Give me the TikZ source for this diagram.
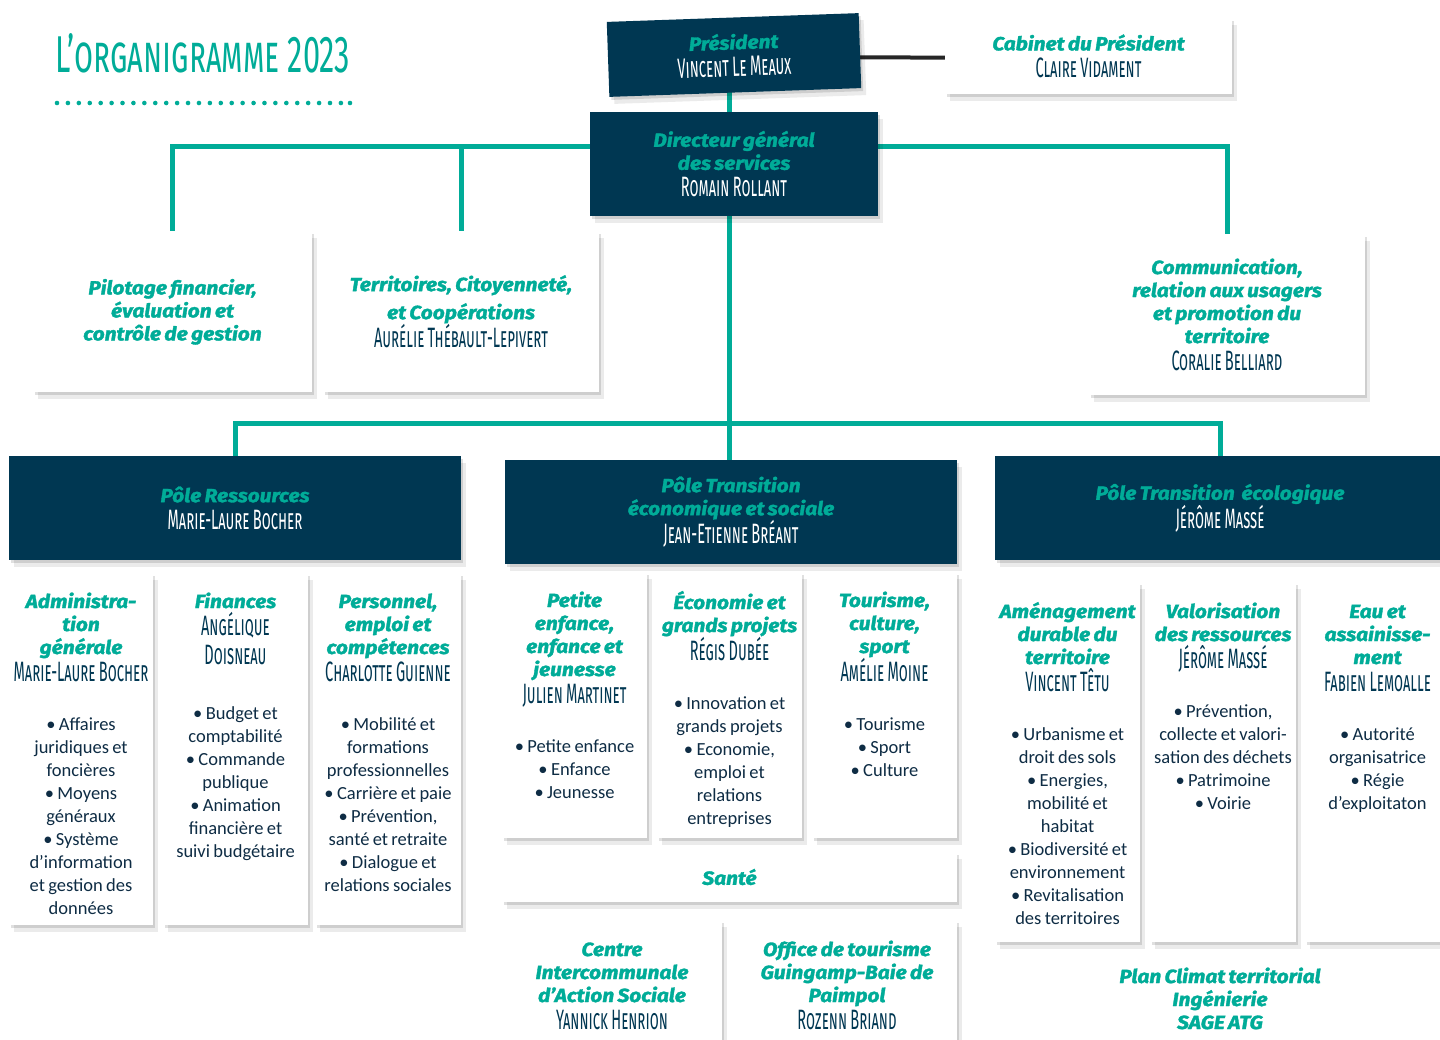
\documentclass[tikz,border=0pt]{standalone}
\usepackage{fontspec}
\usepackage{graphicx}
\setmainfont{Carlito}
\newfontfamily\headfont{Fira Sans}[FakeStretch=1.1, BoldItalicFeatures={FakeBold=1.8}]
\newfontfamily\namefont{Fira Sans}[Letters=SmallCaps, FakeStretch=0.52]
\usetikzlibrary{positioning, shadows, backgrounds}
\definecolor{orgteal}{RGB}{0,172,152}
\definecolor{orgnavy}{RGB}{0,55,82}
\definecolor{orgtext}{RGB}{14,44,68}
\newcommand\hd{\headfont\bfseries\itshape\fontsize{19}{23}\selectfont\color{orgteal}}
\newcommand\nm{\namefont\fontsize{28}{27}\selectfont\color{orgnavy}}
\newcommand\nmw{\namefont\fontsize{28}{27}\selectfont\color{white}}
\newcommand\bd{\fontsize{18.5}{23}\selectfont\color{orgtext}}
\newcommand\topgap{\rule{0pt}{16pt}}

\begin{document}
\begin{tikzpicture}[x=1pt, y=-1pt,
    softshadow/.style={drop shadow={shadow xshift=2pt, shadow yshift=-3pt, opacity=0.12, fill=black},
        drop shadow={shadow xshift=5pt, shadow yshift=-7pt, opacity=0.08, fill=black}},
    darkbox/.style={fill=orgnavy, inner sep=0pt, align=center, softshadow},
    lightbox/.style={fill=white, inner sep=0pt, align=center, softshadow},
    coltext/.style={text width=200pt, align=center, inner sep=0pt},
    link/.style={draw=orgteal, line width=5pt},
    cablink/.style={draw=black!85, line width=4pt}]
        \useasboundingbox (0,0) rectangle (1440,1039);

        % titre
        \node[anchor=base west, inner sep=0pt] (title) at (55,72) {\color{orgteal}\resizebox{295pt}{39pt}{\namefont L’organigramme 2023}};
        \draw[orgteal, line width=4.6pt, line cap=round, dash pattern=on 0pt off 10.92pt] (57,103) -- (341.5,103);
        \fill[orgteal] (350,103) circle (2.3);

        % direction
        \node[darkbox, rotate=2, minimum width=252pt, minimum height=75pt, text width=240pt] (pres) at (734,55) {{\hd\topgap Président\par}{\nmw Vincent Le Meaux\par}};
        \node[lightbox, minimum width=287pt, minimum height=76pt, text width=277pt] (cab) at (1088.5,56) {{\hd\topgap Cabinet du Président\par}{\nm Claire Vidament\par}};
        \node[darkbox, minimum width=288pt, minimum height=104pt, text width=278pt] (dg) at (734,164) {{\hd Directeur général\\des services\par}{\nmw Romain Rollant\par}};

        \node[lightbox, minimum width=279pt, minimum height=161pt, text width=269pt] (pil) at (172.5,311.5) {{\hd\topgap Pilotage financier,\\évaluation et\\contrôle de gestion\par}};
        \node[lightbox, minimum width=276pt, minimum height=161pt, text width=266pt] (ter) at (461,311.5) {{\hd\topgap Territoires, Citoyenneté,\\[5pt]et Coopérations\par}{\nm Aurélie Thébault-Lepivert\par}};
        \node[lightbox, minimum width=276pt, minimum height=161pt, text width=266pt] (com) at (1227,314.5) {{\hd Communication,\\relation aux usagers\\et promotion du\\territoire\par}{\nm Coralie Belliard\par}};

        % poles
        \node[darkbox, minimum width=452pt, minimum height=104pt, text width=440pt] (pt1) at (235,508) {{\hd Pôle Ressources\par}{\nmw Marie-Laure Bocher\par}};
        \node[darkbox, minimum width=452pt, minimum height=104pt, text width=440pt] (pt2) at (731,512) {{\hd Pôle Transition\\économique et sociale\par}{\nmw Jean-Etienne Bréant\par}};
        \node[darkbox, minimum width=450pt, minimum height=104pt, text width=440pt] (pt3) at (1220,508) {{\hd Pôle Transition~ écologique\par}{\nmw Jérôme Massé\par}};

        % pole ressources
        \node[lightbox, minimum width=144pt, minimum height=352pt] (adm) at (81,749) {};
        \node[coltext, below=19pt of adm.north] (admt) {{\hd\topgap Administra-\\tion\\générale\par}{\nm Marie-Laure Bocher\par}\vspace{26pt}{\bd • Affaires\\juridiques et\\foncières\\• Moyens\\généraux\\• Système\\d’information\\et gestion des\\données\par}};
        \node[lightbox, minimum width=145pt, minimum height=352pt] (fin) at (235.5,749) {};
        \node[coltext, below=19pt of fin.north] (fint) {{\hd\topgap Finances\par}{\nm Angélique\\[2pt]Doisneau\par}\vspace{32pt}{\bd • Budget et\\comptabilité\\• Commande\\publique\\• Animation\\financière et\\suivi budgétaire\par}};
        \node[lightbox, minimum width=146pt, minimum height=352pt] (per) at (388,749) {};
        \node[coltext, below=19pt of per.north] (pert) {{\hd\topgap Personnel,\\emploi et\\compétences\par}{\nm Charlotte Guienne\par}\vspace{26pt}{\bd • Mobilité et\\formations\\professionnelles\\• Carrière et paie\\• Prévention,\\santé et retraite\\• Dialogue et\\relations sociales\par}};

        % pole transition economique et sociale
        \node[lightbox, minimum width=145pt, minimum height=266pt] (pet) at (574.5,705) {};
        \node[coltext, below=19pt of pet.north] (pett) {{\hd\topgap Petite\\enfance,\\enfance et\\jeunesse\par}{\nm Julien Martinet\par}\vspace{26pt}{\bd • Petite enfance\\• Enfance\\• Jeunesse\par}};
        \node[lightbox, minimum width=145pt, minimum height=266pt] (eco) at (729.5,705) {};
        \node[coltext, below=19pt of eco.north] (ecot) {{\hd\topgap Économie et\\grands projets\par}{\nm Régis Dubée\par}\vspace{26pt}{\bd • Innovation et\\grands projets\\• Economie,\\emploi et\\relations\\entreprises\par}};
        \node[lightbox, minimum width=145pt, minimum height=266pt] (tou) at (884.5,705) {};
        \node[coltext, below=19pt of tou.north] (tout) {{\hd\topgap Tourisme,\\culture,\\sport\par}{\nm Amélie Moine\par}\vspace{26pt}{\bd • Tourisme\\• Sport\\• Culture\par}};
        \node[lightbox, minimum width=455pt, minimum height=50pt, text width=445pt] (san) at (729.5,877) {{\hd Santé\par}};
        \node[lightbox, minimum width=220pt, minimum height=140pt] (cias) at (612,990) {};
        \node[coltext, below=20pt of cias.north] (ciast) {{\hd\topgap Centre\\Intercommunale\\d’Action Sociale\par}{\nm Yannick Henrion\par}};
        \node[lightbox, minimum width=220pt, minimum height=140pt] (ot) at (847,990) {};
        \node[coltext, below=20pt of ot.north] (ott) {{\hd\topgap Office de tourisme\\Guingamp-Baie de\\Paimpol\par}{\nm Rozenn Briand\par}};

        % pole transition ecologique
        \node[lightbox, minimum width=145pt, minimum height=360pt] (ame) at (1067.5,762) {};
        \node[coltext, below=20pt of ame.north] (amet) {{\hd\topgap Aménagement\\durable du\\territoire\par}{\nm Vincent Têtu\par}\vspace{26pt}{\bd • Urbanisme et\\droit des sols\\• Energies,\\mobilité et\\habitat\\• Biodiversité et\\environnement\\• Revitalisation\\des territoires\par}};
        \node[lightbox, minimum width=146pt, minimum height=360pt] (val) at (1223,762) {};
        \node[coltext, below=20pt of val.north] (valt) {{\hd\topgap Valorisation\\des ressources\par}{\nm Jérôme Massé\par}\vspace{26pt}{\bd • Prévention,\\collecte et valori-\\sation des déchets\\• Patrimoine\\• Voirie\par}};
        \node[lightbox, minimum width=145pt, minimum height=360pt] (eau) at (1377.5,762) {};
        \node[coltext, below=20pt of eau.north] (eaut) {{\hd\topgap Eau et\\assainisse-\\ment\par}{\nm Fabien Lemoalle\par}\vspace{26pt}{\bd • Autorité\\organisatrice\\• Régie\\d’exploitaton\par}};
        \node[lightbox, minimum width=450pt, minimum height=110pt] (plan) at (1220,1010) {};
        \node[coltext, text width=300pt, below=12pt of plan.north] (plant) {{\hd\topgap Plan Climat territorial\\Ingénierie\\SAGE ATG\par}};

        % liaisons
        \begin{scope}[on background layer]
            \fill[white] (0,0) rectangle (1440,1039);
            \coordinate (top) at ([xshift=-5pt]dg.north);
            \coordinate (stem) at ([xshift=-5pt]dg.south);
            \coordinate (mid) at (0,423);
            \coordinate (jn) at (stem |- mid);
            \draw[cablink] ([yshift=-2pt]pres.center) -- ([yshift=-2pt]cab.center);
            \draw[link] (top) -- (top |- pres);
            \draw[link] ([yshift=18pt]dg.west) -| (pil);
            \draw[link] ([yshift=18pt]dg.west) -| (ter);
            \draw[link] ([yshift=18pt]dg.east) -| (com);
            \draw[link] (stem) -- (stem |- pt2);
            \draw[link] (pt1) |- (jn) -| (pt3);
        \end{scope}
    \end{tikzpicture}
\end{document}
